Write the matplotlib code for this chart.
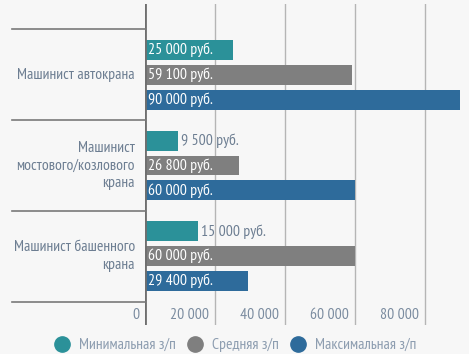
import matplotlib.pyplot as plt
import matplotlib.transforms as mtransforms
from matplotlib.lines import Line2D

plt.rcParams['font.family'] = ['PT Sans Narrow', 'DejaVu Sans']
plt.rcParams['font.stretch'] = 'condensed'

categories = ['Машинист автокрана', 'Машинист\nмостового/козлового\nкрана', 'Машинист башенного\nкрана']
series_names = ['Минимальная з/п', 'Средняя з/п', 'Максимальная з/п']
min_pay = [25000, 9500, 15000]
avg_pay = [59100, 26800, 60000]
max_pay = [90000, 60000, 29400]
xticks = [0, 20000, 40000, 60000, 80000]

colors = ['#2b9199', '#7f7f7f', '#2e6b9b']
bg = '#f7f7f7'
txt = '#6d7e92'
fs = 11.3

W, H = 469, 354
fig = plt.figure(figsize=(W / 100, H / 100), dpi=100, facecolor=bg)
# axes in pixel coords: x 145..465, y 4..325 (from top)
ax = fig.add_axes([145 / W, 1 - 325 / H, 320 / W, 321 / H], facecolor=bg)
px_per_unit = 3.5 / 1000
ax.set_xlim(0, 320 / px_per_unit)
band = 91.0
ax.set_ylim(2 + (325 - 256) / band, -(75 - 4) / band)

for s in ax.spines.values():
    s.set_visible(False)
ax.set_xticks([])
ax.set_yticks([])

for t in xticks[1:]:
    ax.axvline(t, color='#b5b5b5', lw=1, zorder=0)
ax.axvline(0, color='#6f6f6f', lw=2, zorder=3)

off = 25 / band
h = 20 / band
for k, vals in enumerate([min_pay, avg_pay, max_pay]):
    for i, v in enumerate(vals):
        y = i + (k - 1) * off
        ax.barh(y, v, height=h, color=colors[k], zorder=2)
        label = f'{v:,} руб.'.replace(',', ' ')
        if v >= 25000:
            ax.text(900, y, label, color='white', va='center', ha='left', fontsize=fs, zorder=4)
        else:
            ax.text(v + 900, y, label, color=txt, va='center', ha='left', fontsize=fs, zorder=4)

# category labels and separators
for i, c in enumerate(categories):
    ax.text(-10 / px_per_unit, i, c, ha='right', va='center', color=txt, fontsize=fs,
            linespacing=1.35, clip_on=False)
tr = mtransforms.blended_transform_factory(fig.transFigure, ax.transData)
for yb in [-0.5, 0.5, 1.5, 2.5]:
    fig.add_artist(Line2D([12 / W, 145 / W], [yb, yb], transform=tr, color='#7a7a7a', lw=1.2))

# tick labels inside bottom of axes
for t in xticks:
    ax.text(t - 6 / px_per_unit, 2 + (315 - 256) / band, f'{t:,}'.replace(',', ' '),
            ha='right', va='center', color='#7b8ca0', fontsize=fs)

handles = [Line2D([], [], marker='o', ls='', color=colors[k], markersize=11) for k in range(3)]
fig.legend(handles, series_names, loc='center', bbox_to_anchor=(0.501, 1 - 345 / H), ncol=3,
           frameon=False, fontsize=fs, labelcolor='#8d9db0', handlelength=1.0,
           handletextpad=0.6, columnspacing=0.7, borderaxespad=0)

fig.savefig('out.png', dpi=100, facecolor=bg)
